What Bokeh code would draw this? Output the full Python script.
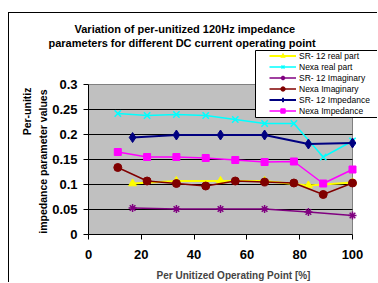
from bokeh.plotting import figure
from bokeh.models import (Range1d, FixedTicker, NumeralTickFormatter, Title,
                          Legend, LegendItem, BoxAnnotation)
from bokeh.embed import file_html
from bokeh.resources import INLINE

# ---- data ----
sr_x = [16.7, 33.3, 50, 66.7, 83.3, 100]
nexa_x = [11.1, 22.2, 33.3, 44.4, 55.6, 66.7, 77.8, 88.9, 100]

sr_real = [0.102, 0.107, 0.107, 0.107, 0.098, 0.104]
nexa_real = [0.242, 0.238, 0.240, 0.238, 0.230, 0.222, 0.222, 0.155, 0.187]
sr_imag = [0.053, 0.051, 0.051, 0.051, 0.045, 0.038]
nexa_imag = [0.134, 0.107, 0.102, 0.097, 0.107, 0.105, 0.103, 0.080, 0.103]
sr_imp = [0.194, 0.199, 0.199, 0.199, 0.181, 0.183]
nexa_imp = [0.165, 0.155, 0.155, 0.153, 0.149, 0.145, 0.146, 0.102, 0.130]

x_ticks = [0, 20, 40, 60, 80, 100]
y_ticks = [0, 0.05, 0.1, 0.15, 0.2, 0.25, 0.3]
x_min, x_max = 0, 100
y_min, y_max = 0, 0.3

title_lines = ["Variation of per-unitized 120Hz impedance",
               "parameters for different DC current operating point"]
y_label_lines = ["Per-unitiz", "impedance parameter values"]
x_label = "Per Unitized Operating Point [%]"

FONT = "Liberation Sans"

# frame is larger than the gray plot area (room for the legend); px per unit fixed
PX_X = 264 / (x_max - x_min)
PX_Y = 150 / (y_max - y_min)
FRAME_W, FRAME_H = 290, 186

p = figure(width=369, height=270, output_backend="svg", toolbar_location=None,
           x_range=Range1d(x_min, x_min + FRAME_W / PX_X),
           y_range=Range1d(y_min, y_min + FRAME_H / PX_Y),
           min_border_left=79, min_border_right=0,
           min_border_top=35, min_border_bottom=49)
p.margin = (12, 0, 0, 8)
p.styles = {"border-left": "1px solid black", "border-top": "1px solid black"}

p.background_fill_color = "white"
p.border_fill_color = "white"
p.outline_line_color = None
p.xgrid.visible = False
p.ygrid.visible = False

# gray plot area
area = BoxAnnotation(left=x_min, right=x_max, bottom=y_min, top=y_max,
                     fill_color="#C0C0C0", fill_alpha=1.0,
                     line_color="#808080", line_width=1, line_alpha=1.0,
                     level="image")
p.add_layout(area)

# horizontal grid lines
gl = y_ticks[1:-1]
p.segment(x0=[x_min] * len(gl), x1=[x_max] * len(gl), y0=gl, y1=gl,
          line_color="black", line_width=1)

for ax in (p.xaxis[0], p.yaxis[0]):
    ax.axis_line_color = "black"
    ax.major_tick_line_color = "black"
    ax.major_tick_in = 0
    ax.major_tick_out = 5
    ax.minor_tick_line_color = None
    ax.major_label_text_font = FONT
    ax.major_label_text_font_style = "bold"
    ax.major_label_text_font_size = "13px"
    ax.major_label_text_color = "black"
    ax.major_label_text_line_height = 1.0

p.xaxis.bounds = (x_min, x_max)
p.yaxis.bounds = (y_min, y_max)
p.xaxis.ticker = FixedTicker(ticks=x_ticks)
p.yaxis.ticker = FixedTicker(ticks=y_ticks)
p.yaxis.formatter = NumeralTickFormatter(format="0.[00]")
p.xaxis.major_label_standoff = 10
p.yaxis.major_label_standoff = 6

p.xaxis.axis_label = x_label
p.xaxis.axis_label_text_font = FONT
p.xaxis.axis_label_text_font_style = "bold"
p.xaxis.axis_label_text_font_size = "10px"
p.xaxis.axis_label_text_line_height = 1.0
p.xaxis.axis_label_standoff = 8

# ---- series ----
r1l = p.line(sr_x, sr_real, line_color="#FFFF00", line_width=2)
r1m = p.scatter(sr_x, sr_real, marker="triangle", size=8, fill_color="#FFFF00", line_color="#FFFF00")
r2l = p.line(nexa_x, nexa_real, line_color="#00FFFF", line_width=1.5)
r2m = p.scatter(nexa_x, nexa_real, marker="x", size=9, line_color="#00FFFF", line_width=1.5)
r3l = p.line(sr_x, sr_imag, line_color="#800080", line_width=1.5)
r3m = p.scatter(sr_x, sr_imag, marker="asterisk", size=8, line_color="#800080", line_width=1.5)
r4l = p.line(nexa_x, nexa_imag, line_color="#800000", line_width=1.5)
r4m = p.scatter(nexa_x, nexa_imag, marker="circle", size=8, fill_color="#800000", line_color="#800000")
r5l = p.line(sr_x, sr_imp, line_color="#000080", line_width=2)
r5m = p.scatter(sr_x, sr_imp, marker="diamond", size=10, fill_color="#000080", line_color="#000080")
r6l = p.line(nexa_x, nexa_imp, line_color="#FF00FF", line_width=1.5)
r6m = p.scatter(nexa_x, nexa_imp, marker="square", size=7, fill_color="#FF00FF", line_color="#FF00FF")

# ---- legend box + legend ----
box = BoxAnnotation(left=167, right=330, bottom=117, top=184,
                    left_units="screen", right_units="screen",
                    bottom_units="screen", top_units="screen",
                    fill_color="white", fill_alpha=1.0,
                    line_color="black", line_width=1, line_alpha=1.0)
p.add_layout(box)

legend = Legend(items=[
    LegendItem(label="SR- 12 real part", renderers=[r1l, r1m]),
    LegendItem(label="Nexa real part", renderers=[r2l, r2m]),
    LegendItem(label="SR- 12 Imaginary", renderers=[r3l, r3m]),
    LegendItem(label="Nexa Imaginary", renderers=[r4l, r4m]),
    LegendItem(label="SR- 12 Impedance", renderers=[r5l, r5m]),
    LegendItem(label="Nexa Impedance", renderers=[r6l, r6m]),
], location=(181, 118))
legend.border_line_alpha = 0
legend.background_fill_alpha = 0
legend.padding = 0
legend.margin = 0
legend.spacing = 0
legend.glyph_width = 27
legend.glyph_height = 11
legend.label_height = 11
legend.label_standoff = 3
legend.label_text_font = FONT
legend.label_text_font_size = "8.5px"
legend.label_text_color = "black"
p.add_layout(legend)

# ---- chart title: two lines in the above panel (nearest first) ----
for txt, off in zip([title_lines[1], title_lines[0]], [-40, -14]):
    p.add_layout(Title(text=txt, align="left", offset=off, standoff=0,
                       text_font=FONT, text_font_style="bold",
                       text_font_size="11px", text_color="black"), "above")

# ---- y axis title: two lines in the left panel (nearest first) ----
for txt, off in zip([y_label_lines[1], y_label_lines[0]], [41, 39]):
    p.add_layout(Title(text=txt, align="right", offset=off, standoff=2,
                       text_font=FONT, text_font_style="bold",
                       text_font_size="10.5px", text_color="black"), "left")

open("out.html", "w").write(file_html(p, INLINE))
